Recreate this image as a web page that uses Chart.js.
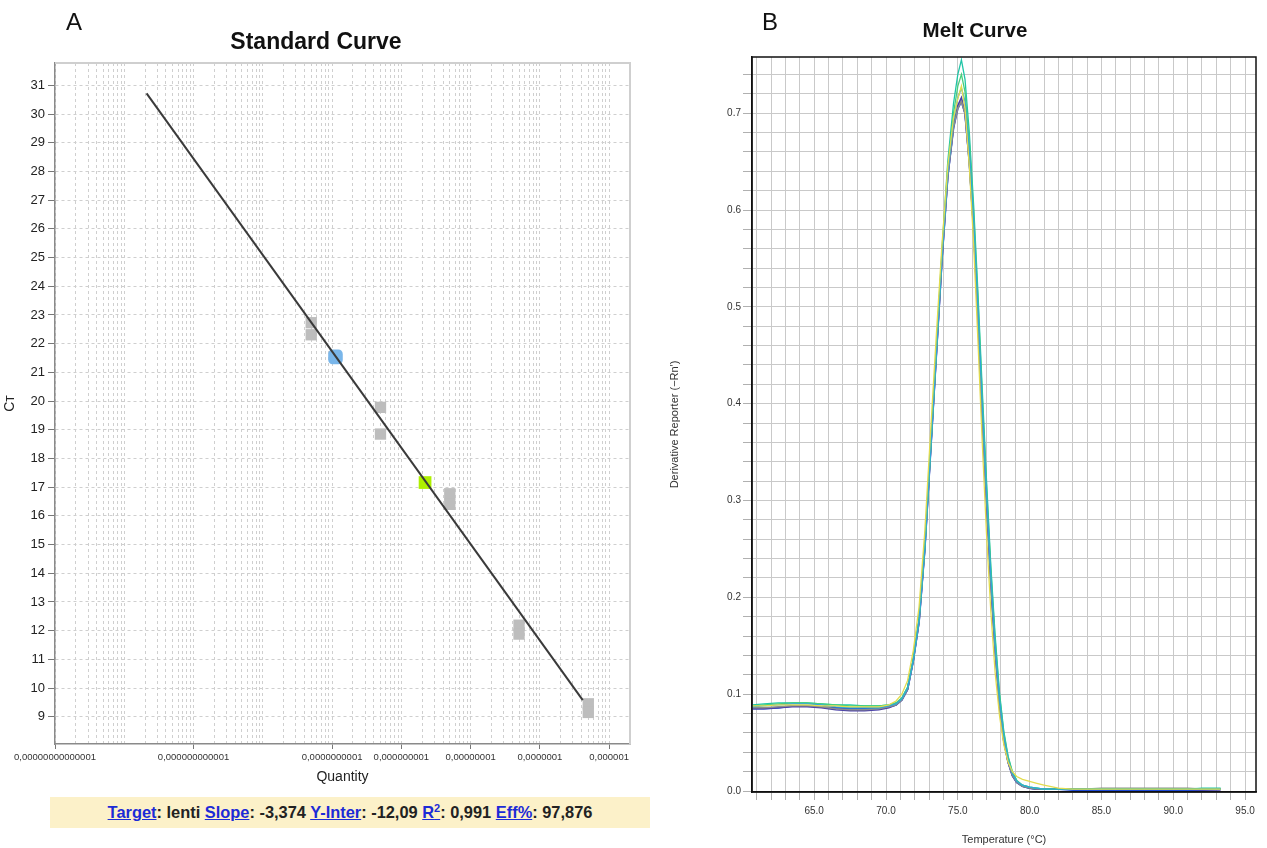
<!DOCTYPE html>
<html><head><meta charset="utf-8">
<script src="https://cdn.jsdelivr.net/npm/chart.js@4.4.1/dist/chart.umd.min.js"></script>
<style>
html,body{margin:0;padding:0;background:#fff;}
body{width:1267px;height:848px;position:relative;overflow:hidden;font-family:"Liberation Sans",Arial,sans-serif;}
#wa{position:absolute;left:0;top:0;width:645px;height:795px;}
#wb{position:absolute;left:645px;top:0;width:622px;height:848px;}
.pl{position:absolute;font-size:24px;color:#111;}
.tt{position:absolute;font-weight:bold;color:#111;text-align:center;}
#foot{position:absolute;left:50px;top:797px;width:600px;height:31px;background:#fcf1c9;font-weight:bold;font-size:16.4px;line-height:31px;text-align:center;color:#222;}
#foot .lk{color:#1c2bd6;text-decoration:underline;}
</style></head>
<body>
<div id="wa"><canvas id="ca"></canvas></div>
<div id="wb"><canvas id="cb"></canvas></div>
<div class="pl" style="left:66px;top:8px;">A</div>
<div class="pl" style="left:762px;top:8px;">B</div>
<div class="tt" style="left:166px;top:28px;width:300px;font-size:23px;">Standard Curve</div>
<div class="tt" style="left:825px;top:18px;width:300px;font-size:20.5px;">Melt Curve</div>
<div id="foot"></div>
<script>
// ---------- Panel A: standard curve ----------
const stdQuantity = [5e-11, 5e-11, 5e-10, 5e-10, 5e-9, 5e-9, 5e-8, 5e-8, 5e-7, 5e-7];
const stdCt       = [22.73, 22.31, 19.78, 18.85, 16.77, 16.40, 12.19, 11.88, 9.45, 9.15];
const unkQuantity = [1.12e-10, 2.2e-9];
const unkCt       = [21.54, 17.16];
const fitQuantity = [2.1e-13, 4.16e-7];
const fitCt       = [30.72, 9.58];
const xTickValues = [1e-14, 1e-12, 1e-10, 1e-9, 1e-8, 1e-7, 1e-6];
const xTickLabels = ['0,00000000000001','0,000000000001','0,0000000001','0,000000001','0,00000001','0,0000001','0,000001'];
const yTickValues = [9,10,11,12,13,14,15,16,17,18,19,20,21,22,23,24,25,26,27,28,29,30,31];
const statNames  = ['Target','Slope','Y-Inter','R2','Eff%'];
const statValues = ['lenti','-3,374','-12,09','0,991','97,876'];

// ---------- Panel B: melt curve ----------
const temps = [60.7,61.5,62.5,63.5,64.5,65.5,66.5,67.5,68.5,69.5,70.2,70.7,71.1,71.5,71.9,72.3,72.7,73.1,73.5,73.9,74.3,74.7,75.0,75.25,75.5,75.8,76.1,76.4,76.7,77.0,77.3,77.6,77.9,78.2,78.5,78.8,79.1,79.5,80.0,80.5,81.0,82.0,83.0,84.0,85.0,86.5,88.0,89.5,91.0,92.0,93.3];
const meltYellow = [0.088,0.088,0.089,0.089,0.089,0.088,0.088,0.087,0.087,0.087,0.089,0.093,0.100,0.114,0.145,0.190,0.268,0.370,0.470,0.565,0.645,0.695,0.715,0.728,0.705,0.645,0.565,0.465,0.360,0.265,0.185,0.122,0.078,0.048,0.030,0.020,0.015,0.012,0.010,0.008,0.006,0.003,0.002,0.002,0.002,0.002,0.002,0.002,0.002,0.002,0.002];
const meltTeal   = [0.089,0.090,0.091,0.091,0.091,0.090,0.089,0.089,0.088,0.088,0.089,0.091,0.096,0.107,0.136,0.178,0.252,0.352,0.455,0.560,0.650,0.710,0.740,0.755,0.735,0.680,0.605,0.515,0.415,0.320,0.232,0.160,0.102,0.062,0.036,0.020,0.011,0.006,0.004,0.003,0.002,0.002,0.002,0.002,0.002,0.002,0.002,0.002,0.002,0.003,0.003];
const meltGreen  = [0.088,0.089,0.090,0.091,0.091,0.090,0.089,0.088,0.088,0.088,0.089,0.091,0.096,0.107,0.136,0.177,0.251,0.351,0.453,0.556,0.643,0.700,0.728,0.740,0.722,0.670,0.598,0.508,0.408,0.314,0.228,0.156,0.099,0.060,0.035,0.019,0.011,0.006,0.004,0.003,0.002,0.002,0.002,0.002,0.002,0.002,0.002,0.002,0.002,0.002,0.002];
const meltCyan   = [0.087,0.088,0.089,0.090,0.090,0.089,0.087,0.086,0.086,0.086,0.088,0.090,0.095,0.106,0.135,0.176,0.250,0.350,0.451,0.552,0.638,0.692,0.716,0.726,0.712,0.662,0.590,0.500,0.400,0.308,0.222,0.150,0.095,0.057,0.033,0.018,0.010,0.006,0.004,0.003,0.002,0.002,0.002,0.002,0.002,0.002,0.002,0.002,0.002,0.002,0.002];
const meltNavy   = [0.085,0.085,0.086,0.087,0.087,0.086,0.084,0.083,0.083,0.084,0.086,0.089,0.094,0.105,0.135,0.175,0.250,0.350,0.450,0.550,0.635,0.686,0.708,0.716,0.700,0.650,0.580,0.490,0.390,0.300,0.215,0.145,0.090,0.052,0.030,0.016,0.009,0.005,0.003,0.002,0.002,0.002,0.002,0.002,0.002,0.002,0.002,0.002,0.002,0.001,0.001];
const meltGray   = [0.086,0.086,0.087,0.088,0.088,0.087,0.085,0.084,0.084,0.085,0.087,0.089,0.094,0.105,0.135,0.175,0.250,0.350,0.450,0.550,0.635,0.685,0.705,0.712,0.700,0.650,0.580,0.490,0.390,0.300,0.215,0.145,0.090,0.052,0.030,0.016,0.009,0.005,0.003,0.002,0.002,0.002,0.002,0.002,0.003,0.003,0.003,0.003,0.003,0.002,0.002];
const meltBlue   = [0.085,0.085,0.086,0.088,0.088,0.087,0.086,0.085,0.085,0.085,0.087,0.089,0.094,0.105,0.135,0.175,0.250,0.350,0.450,0.550,0.635,0.685,0.705,0.712,0.700,0.650,0.580,0.490,0.390,0.300,0.215,0.145,0.090,0.052,0.030,0.016,0.009,0.005,0.003,0.002,0.002,0.002,0.001,0.001,0.001,0.001,0.001,0.001,0.001,0.001,0.002];
const meltXTicks = [61,62,63,64,65,66,67,68,69,70,71,72,73,74,75,76,77,78,79,80,81,82,83,84,85,86,87,88,89,90,91,92,93,94,95];
const meltXLabels = [65,70,75,80,85,90,95];
const meltYTicks = [0,0.02,0.04,0.06,0.08,0.1,0.12,0.14,0.16,0.18,0.2,0.22,0.24,0.26,0.28,0.3,0.32,0.34,0.36,0.38,0.4,0.42,0.44,0.46,0.48,0.5,0.52,0.54,0.56,0.58,0.6,0.62,0.64,0.66,0.68,0.7,0.72,0.74];
const meltYLabels = [0,0.1,0.2,0.3,0.4,0.5,0.6,0.7];

// footer
document.getElementById('foot').innerHTML = statNames.map((n,i)=>{
  const nm = n==='R2' ? 'R<sup style="font-size:11px;line-height:0">2</sup>' : n;
  return '<span class="lk">'+nm+'</span>: '+statValues[i];
}).join(' ');

function pts(xs, ys){ return xs.map((x,i)=>({x:x, y:ys[i]})); }

// grid positions for log axis: 1..9 x each decade
const aGrid = [];
for (let d=-14; d<=-6; d++) for (let m=1; m<=9; m++) { const v=m*Math.pow(10,d); if (v<=2e-6) aGrid.push(v); }
function labelFor(v){
  for (let i=0;i<xTickValues.length;i++) if (Math.abs(Math.log10(v)-Math.log10(xTickValues[i]))<1e-6) return xTickLabels[i];
  return '';
}

const frameA = {id:'frameA', afterDatasetsDraw(chart){
  const {ctx, chartArea:a} = chart; ctx.save(); ctx.strokeStyle='#cfcfcf'; ctx.lineWidth=2;
  ctx.beginPath(); ctx.moveTo(a.left, a.top); ctx.lineTo(a.right, a.top); ctx.lineTo(a.right, a.bottom); ctx.stroke(); ctx.restore();
}};
const frameB = {id:'frameB', afterDatasetsDraw(chart){
  const {ctx, chartArea:a} = chart; ctx.save(); ctx.strokeStyle='#111'; ctx.lineWidth=1.5;
  ctx.strokeRect(a.left, a.top, a.right-a.left, a.bottom-a.top); ctx.restore();
}};

new Chart(document.getElementById('ca'), {
  type:'scatter',
  data:{datasets:[
    {type:'line', data:pts(fitQuantity, fitCt), borderColor:'#3a3a3a', borderWidth:2, pointRadius:0, fill:false},
    {data:pts(stdQuantity, stdCt), pointStyle:'rect', pointRadius:8, backgroundColor:'#bdbdbd', borderWidth:0},
    {data:pts([unkQuantity[0]],[unkCt[0]]), pointStyle:'rectRounded', pointRadius:8.5, backgroundColor:'#79b6ea', borderWidth:0},
    {data:pts([unkQuantity[1]],[unkCt[1]]), pointStyle:'rect', pointRadius:9, backgroundColor:'#aef000', borderWidth:0}
  ]},
  options:{
    responsive:true, maintainAspectRatio:false, animation:false,
    layout:{padding:{top:63, right:15, left:0, bottom:0}},
    plugins:{legend:{display:false}, tooltip:{enabled:false}},
    scales:{
      x:{type:'logarithmic', min:1e-14, max:2e-6,
        afterBuildTicks:s=>{ s.ticks = aGrid.map(v=>({value:v})); },
        afterFit:s=>{ s.height = 51; },
        ticks:{autoSkip:false, maxRotation:0, minRotation:0, padding:3, color:'#333', font:{size:9.5, family:'"Liberation Sans", Arial'}, callback:v=>labelFor(v)},
        grid:{color:'#cfcfcf', tickLength:5, tickBorderDash:[], tickColor:c=> labelFor(c.tick.value)? '#777':'rgba(0,0,0,0)'},
        border:{color:'#8a8a8a', width:1.5, dash:[3,3]},
        title:{display:true, text:'Quantity', color:'#222', font:{size:14, family:'"Liberation Sans", Arial'}, padding:{top:0,bottom:9}}
      },
      y:{min:8.05, max:31.78,
        afterBuildTicks:s=>{ s.ticks = yTickValues.map(v=>({value:v})); },
        afterFit:s=>{ s.width = 55; },
        ticks:{color:'#222', padding:3, font:{size:13, family:'"Liberation Sans", Arial'}},
        grid:{color:'#cfcfcf', tickLength:7, tickBorderDash:[], tickColor:'#777'},
        border:{color:'#8a8a8a', width:1.5, dash:[3,3]},
        title:{display:true, text:'Cᴛ', color:'#222', font:{size:14, family:'"Liberation Sans", Arial'}, padding:{top:2,bottom:0}}
      }
    }
  },
  plugins:[frameA]
});

const meltSeries = [
  {d:meltYellow, c:'#e3dc4e', w:1.3},
  {d:meltCyan,   c:'#2fa8d8', w:1.3},
  {d:meltGreen,  c:'#46d07a', w:1.3},
  {d:meltTeal,   c:'#1fc5a6', w:1.3},
  {d:meltGray,   c:'#8c8c8c', w:1.5},
  {d:meltNavy,   c:'#4b41a8', w:1.6},
  {d:meltBlue,   c:'#1e4ad6', w:1.8}
];
new Chart(document.getElementById('cb'), {
  type:'line',
  data:{datasets: meltSeries.map(s=>({data:pts(temps, s.d), borderColor:s.c, borderWidth:s.w, pointRadius:0, fill:false, tension:0}))},
  options:{
    responsive:true, maintainAspectRatio:false, animation:false,
    layout:{padding:{top:57, right:11, left:0, bottom:0}},
    plugins:{legend:{display:false}, tooltip:{enabled:false}},
    scales:{
      x:{type:'linear', min:60.67, max:95.76,
        afterBuildTicks:s=>{ s.ticks = meltXTicks.map(v=>({value:v})); },
        afterFit:s=>{ s.height = 56; },
        ticks:{autoSkip:false, maxRotation:0, padding:5, color:'#333', font:{size:10, family:'"Liberation Sans", Arial'}, callback:v=> meltXLabels.includes(v) ? v.toFixed(1) : ''},
        grid:{color:'#c9c9c9', lineWidth:1, tickLength:8, tickColor:'#b0b0b0'},
        border:{color:'#111', width:1.5},
        title:{display:true, text:'Temperature (°C)', color:'#333', font:{size:11, family:'"Liberation Sans", Arial'}, padding:{top:0,bottom:1.5}}
      },
      y:{min:-0.001, max:0.758,
        afterBuildTicks:s=>{ s.ticks = meltYTicks.map(v=>({value:v})); },
        afterFit:s=>{ s.width = 107; },
        ticks:{autoSkip:false, padding:2, color:'#333', font:{size:10, family:'"Liberation Sans", Arial'}, callback:v=> meltYLabels.some(l=>Math.abs(l-v)<1e-9) ? v.toFixed(1) : ''},
        grid:{color:'#c9c9c9', lineWidth:1, tickLength:9, tickColor:'#b0b0b0'},
        border:{color:'#111', width:1.5},
        title:{display:true, text:'Derivative Reporter (−Rn′)', color:'#333', font:{size:11, family:'"Liberation Sans", Arial'}, padding:{top:23,bottom:0}}
      }
    }
  },
  plugins:[frameB]
});
</script>
</body></html>
